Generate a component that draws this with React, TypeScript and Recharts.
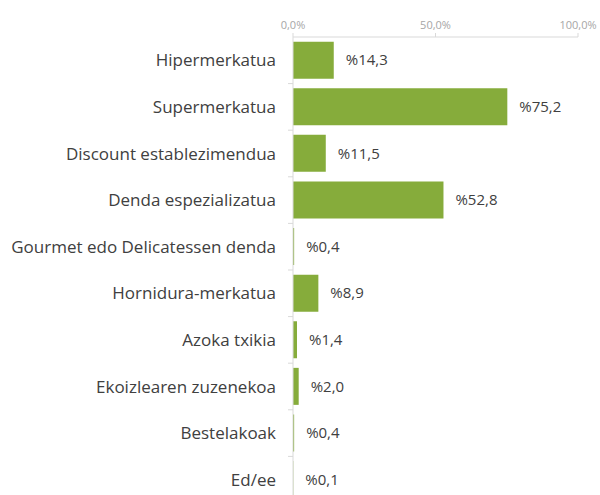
import { BarChart, Bar, XAxis, YAxis, LabelList } from 'recharts';

const categories = [
  'Hipermerkatua',
  'Supermerkatua',
  'Discount establezimendua',
  'Denda espezializatua',
  'Gourmet edo Delicatessen denda',
  'Hornidura-merkatua',
  'Azoka txikia',
  'Ekoizlearen zuzenekoa',
  'Bestelakoak',
  'Ed/ee',
];
const shares = [14.3, 75.2, 11.5, 52.8, 0.4, 8.9, 1.4, 2.0, 0.4, 0.1];
const xTicks = [0, 50, 100];

const data = categories.map((name, i) => ({ name, value: shares[i] }));

const FONT = '"Open Sans", sans-serif';
const fmtPct = (v: number) => `${v.toFixed(1).replace('.', ',')}%`;
const fmtLabel = (v: number) => `%${Number(v).toFixed(1).replace('.', ',')}`;

const TOP = 37;
const CHART_H = 503;
const BAND = (CHART_H - TOP) / categories.length;

function CategoryTick(props: any) {
  const { x, y, payload, index } = props;
  const axisX = x + 17;
  return (
    <g>
      {index > 0 && (
        <line x1={axisX - 5} x2={axisX} y1={y - BAND / 2} y2={y - BAND / 2} stroke="#d9d9d9" />
      )}
      <text x={x} y={y} dy={6} textAnchor="end" fill="#404040" fontSize={17} fontFamily={FONT}>
        {payload.value}
      </text>
    </g>
  );
}

export default function App() {
  return (
    <div
      style={{
        position: 'absolute',
        left: 0,
        top: 0,
        width: 600,
        height: 495,
        overflow: 'hidden',
        background: '#fff',
      }}
    >
      <BarChart
        width={600}
        height={CHART_H}
        data={data}
        layout="vertical"
        margin={{ top: TOP - 30, right: 22, bottom: 0, left: 0 }}
        barCategoryGap="10%"
      >
        <XAxis
          type="number"
          orientation="top"
          domain={[0, 100]}
          ticks={xTicks}
          tickFormatter={fmtPct}
          stroke="#d9d9d9"
          tickSize={4}
          tickMargin={4}
          tick={{ fill: '#a6a6a6', fontSize: 11, fontFamily: FONT }}
          height={30}
        />
        <YAxis
          type="category"
          dataKey="name"
          width={293}
          stroke="#d9d9d9"
          tickLine={false}
          tickSize={0}
          tickMargin={17}
          tick={<CategoryTick />}
          interval={0}
        />
        <Bar dataKey="value" fill="#86ac3b" isAnimationActive={false}>
          <LabelList
            dataKey="value"
            position="right"
            offset={12}
            formatter={fmtLabel}
            style={{ fill: '#404040', fontSize: 15, fontFamily: FONT }}
          />
        </Bar>
      </BarChart>
    </div>
  );
}
